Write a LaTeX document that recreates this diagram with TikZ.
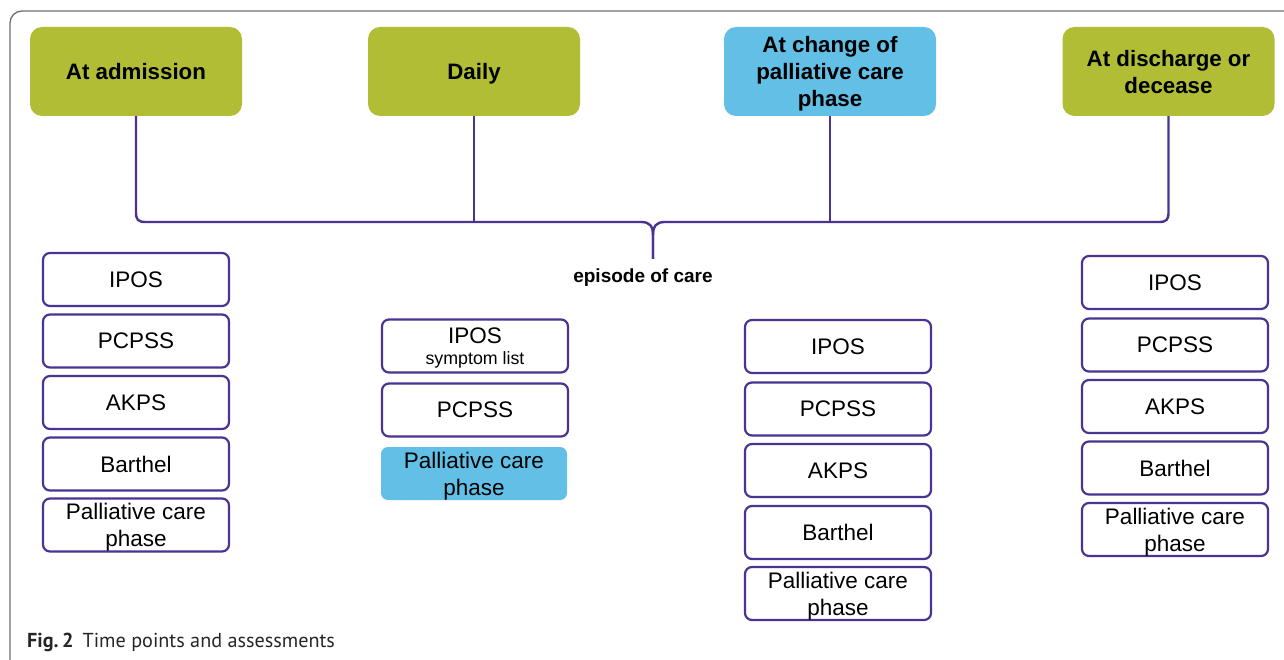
\documentclass[tikz,border=0pt]{standalone}
\usepackage{fontspec}
\setmainfont{Liberation Sans}
\newfontfamily\capfont{PT Sans}
\definecolor{lgreen}{HTML}{B0BD35}
\definecolor{lblue}{HTML}{62BFE6}
\definecolor{lpurple}{HTML}{4A3391}
\definecolor{framegray}{HTML}{6E6E6E}
\begin{document}
\begin{tikzpicture}[x=1pt,y=-1pt,
  top/.style={rounded corners=12pt, minimum width=212pt, minimum height=89pt, align=center,
    font=\fontsize{22.3}{27}\selectfont\bfseries, inner sep=0pt, text depth=0pt},
  item/.style={draw=lpurple, line width=2.2pt, rounded corners=7pt, minimum width=186pt,
    minimum height=53pt, align=center, font=\fontsize{22.5}{27}\selectfont, inner sep=0pt,
    fill=white, text depth=0pt},
  blueitem/.style={item, draw=none, fill=lblue},
  conn/.style={draw=lpurple, line width=2.4pt}]
\useasboundingbox (0,0) rectangle (1284,660);
\clip (0,0) rectangle (1284,660);
\draw[framegray, line width=1.3pt, rounded corners=12pt] (10,720) -- (10,11) -- (1340,11);

% top boxes
\node[top, fill=lgreen] (adm) at (136,71.5) {At admission};
\node[top, fill=lgreen] (daily) at (474,71.5) {Daily};
\node[top, fill=lblue] (chg) at (830,71.5) {At change of\\palliative care\\phase};
\node[top, fill=lgreen] (dis) at (1168.5,71.5) {At discharge or\\decease};

% brace
\coordinate (bar) at (0,222);
\coordinate (tip) at (653,259);
\draw[conn] (adm.south) -- (136,212) .. controls (136,220) and (138,222) .. (146,222)
  -- (641,222) .. controls (650,222) and (653,226) .. (653,236) -- (tip);
\draw[conn] (tip) -- (653,236) .. controls (653,226) and (656,222) .. (665,222)
  -- (1158.5,222) .. controls (1166.5,222) and (1168.5,220) .. (1168.5,212) -- (dis.south);
\draw[conn] (daily.south) -- (daily.south |- bar);
\draw[conn] (chg.south) -- (chg.south |- bar);
\node[font=\fontsize{19}{20}\selectfont\bfseries] (ep) at (643,277.5) {episode of care};

% admission column
\node[item] (a1) at (136,279.5) {IPOS};
\node[item] (a2) at (136,341) {PCPSS};
\node[item] (a3) at (136,402.5) {AKPS};
\node[item] (a4) at (136,464) {Barthel};
\node[item] (a5) at (136,525) {Palliative care\\phase};

% daily column
\node[item] (d1) at (475,346) {IPOS\\[-6pt]{\fontsize{17.8}{20}\selectfont symptom list}};
\node[item] (d2) at (475,410) {PCPSS};
\node[blueitem] (d3) at (474,473.5) {Palliative care\\phase};

% change column
\node[item] (c1) at (838,346.5) {IPOS};
\node[item] (c2) at (838,409) {PCPSS};
\node[item] (c3) at (838,470.5) {AKPS};
\node[item] (c4) at (838,532.5) {Barthel};
\node[item] (c5) at (838,593.5) {Palliative care\\phase};

% discharge column
\node[item] (e1) at (1175,282.5) {IPOS};
\node[item] (e2) at (1175,345) {PCPSS};
\node[item] (e3) at (1175,406.5) {AKPS};
\node[item] (e4) at (1175,468) {Barthel};
\node[item] (e5) at (1175,529.5) {Palliative care\\phase};

% caption
\node[anchor=west, inner sep=0pt, font=\capfont\fontsize{20.2}{22}\selectfont, text=black!85] (cap) at (27,642)
  {\textbf{Fig.\,2}\hspace{0.45em}Time points and assessments};
\end{tikzpicture}
\end{document}
